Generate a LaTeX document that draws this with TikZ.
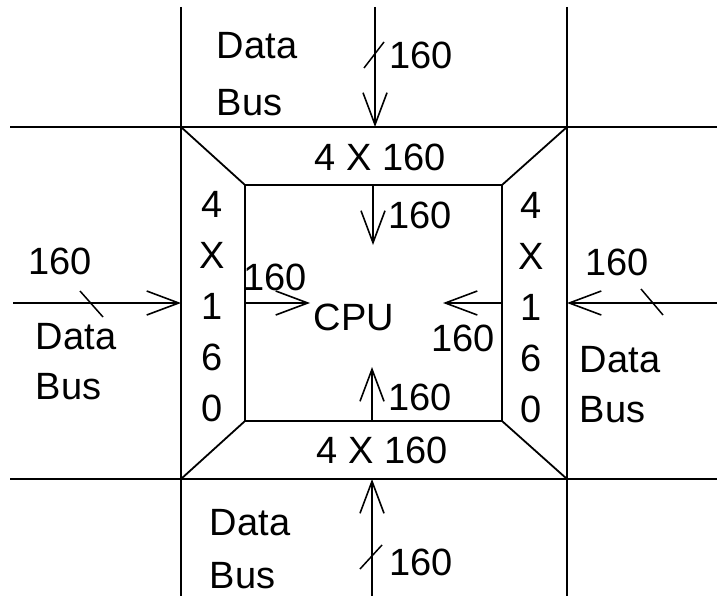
\documentclass[tikz,border=0pt]{standalone}
\usepackage{fontspec}
\setmainfont{Liberation Sans}
\usetikzlibrary{arrows.meta}
\begin{document}
\begin{tikzpicture}[x=1pt,y=-1pt,line width=1.8pt,
  lbl/.style={inner sep=0pt,font=\fontsize{38}{42}\selectfont},
  two/.style={lbl,align=left,font=\fontsize{38}{#1}\selectfont},
  col/.style={lbl,align=center,font=\fontsize{38}{51}\selectfont},
  arr/.style={-{Straight Barb[length=32pt,width=24pt,line width=1.6pt]}},
  tick/.style={line width=1.5pt}]
\useasboundingbox (0,0) rectangle (717,596);
% frame corners
\coordinate (TL) at (181,127); \coordinate (TR) at (567,127);
\coordinate (BL) at (181,479); \coordinate (BR) at (567,479);
\coordinate (itl) at (245,185); \coordinate (itr) at (502,185);
\coordinate (ibl) at (245,421); \coordinate (ibr) at (502,421);
% line ends
\coordinate (vLt) at (181,7);  \coordinate (vLb) at (181,596);
\coordinate (vRt) at (567,7);  \coordinate (vRb) at (567,596);
\coordinate (hTl) at (10,127); \coordinate (hTr) at (717,127);
\coordinate (hBl) at (10,479); \coordinate (hBr) at (717,479);
% grid lines
\draw (vLt) -- (vLb); \draw (vRt) -- (vRb);
\draw (hTl) -- (hTr); \draw (hBl) -- (hBr);
% inner square and diagonals
\draw (itl) -- (itr) -- (ibr) -- (ibl) -- cycle;
\draw (TL) -- (itl); \draw (TR) -- (itr);
\draw (BL) -- (ibl); \draw (BR) -- (ibr);
% outer bus arrows
\coordinate (topsrc) at (375,7);   \coordinate (toptip) at (375,127);
\coordinate (botsrc) at (372,596); \coordinate (bottip) at (372,479);
\coordinate (lsrc) at (13,303);    \coordinate (ltip) at (181,303);
\coordinate (rsrc) at (717,303);   \coordinate (rtip) at (567,303);
\draw[arr] (topsrc) -- (toptip);
\draw[arr] (botsrc) -- (bottip);
\draw[arr] (lsrc) -- (ltip);
\draw[arr] (rsrc) -- (rtip);
% bus slashes
\draw[tick] (364,68) -- (384,42);
\draw[tick] (360,569) -- (382,545);
\draw[tick] (80,291) -- (103,317);
\draw[tick] (641,289) -- (663,315);
% inner arrows
\coordinate (isrcT) at (373,185); \coordinate (itipT) at (373,245);
\coordinate (isrcB) at (372,421); \coordinate (itipB) at (372,367);
\coordinate (isrcL) at (245,303); \coordinate (itipL) at (310,303);
\coordinate (isrcR) at (502,303); \coordinate (itipR) at (443,303);
\draw[arr] (isrcT) -- (itipT);
\draw[arr] (isrcB) -- (itipB);
\draw[arr] (isrcL) -- (itipL);
\draw[arr] (isrcR) -- (itipR);
% labels
\node[two=57,anchor=west] (dbT) at (216,74) {Data\\Bus};
\node[two=53,anchor=west] (dbB) at (209,549) {Data\\Bus};
\node[two=50,anchor=west] (dbL) at (35,362) {Data\\Bus};
\node[two=50,anchor=west] (dbR) at (579,385) {Data\\Bus};
\node[lbl] (nT) at (421,55) {160};
\node[lbl] (nB) at (421,562) {160};
\node[lbl] (nL) at (60,261) {160};
\node[lbl] (nR) at (617,262) {160};
\node[lbl] (wT) at (380,157) {4 X 160};
\node[lbl] (wB) at (382,450) {4 X 160};
\node[col] (cL) at (212,307) {4\\X\\1\\6\\0};
\node[col] (cR) at (531,308) {4\\X\\1\\6\\0};
\node[lbl] (iT) at (420,215) {160};
\node[lbl] (iB) at (420,397) {160};
\node[lbl] (iL) at (275,277) {160};
\node[lbl] (iR) at (463,338) {160};
\node[lbl] (cpu) at (354,317) {CPU};
\end{tikzpicture}
\end{document}
